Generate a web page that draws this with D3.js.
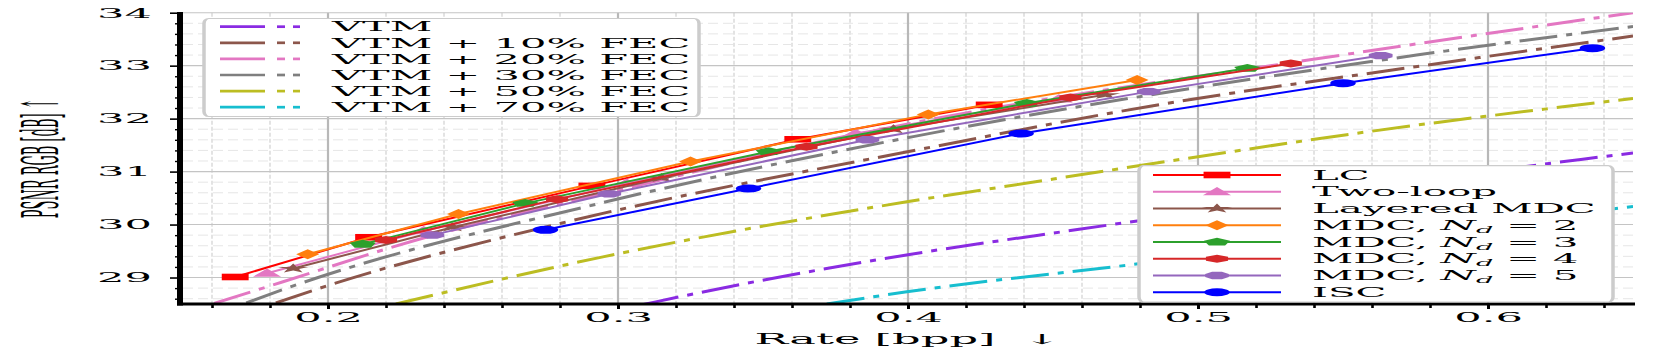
<!DOCTYPE html>
<html>
<head>
<meta charset="utf-8">
<script src="https://cdn.jsdelivr.net/npm/d3@7"></script>
<style>
body{margin:0;background:#fff}
svg{display:block}
text{font-family:"DejaVu Serif",serif;fill:#000}
</style>
</head>
<body>
<svg id="chart" width="1662" height="349"></svg>
<script>
// values
var xTicks=[0.2,0.3,0.4,0.5,0.6]
var yTicks=[29,30,31,32,33,34]

var lcRate=[0.168,0.214,0.291,0.362,0.428]
var lcPsnr=[29.01,29.76,30.73,31.61,32.26]
var twoLoopRate=[0.179,0.233,0.303,0.382,0.452]
var twoLoopPsnr=[29.08,29.88,30.78,31.72,32.37]
var layeredRate=[0.188,0.243,0.315,0.395,0.468]
var layeredPsnr=[29.17,29.95,30.88,31.80,32.45]
var mdc2Rate=[0.193,0.245,0.325,0.407,0.479]
var mdc2Psnr=[29.44,30.20,31.19,32.08,32.73]
var mdc3Rate=[0.212,0.268,0.352,0.441,0.517]
var mdc3Psnr=[29.63,30.40,31.38,32.29,32.95]
var mdc4Rate=[0.220,0.279,0.365,0.456,0.532]
var mdc4Psnr=[29.71,30.48,31.47,32.40,33.04]
var mdc5Rate=[0.236,0.297,0.386,0.483,0.563]
var mdc5Psnr=[29.80,30.58,31.60,32.51,33.19]
var iscRate=[0.275,0.345,0.439,0.550,0.636]
var iscPsnr=[29.90,30.68,31.72,32.67,33.33]

var vtmRate=[0.308,0.313,0.400,0.459,0.550,0.632,0.650]
var vtmPsnr=[28.48,28.54,29.43,29.91,30.61,31.23,31.35]
var fec10Rate=[0.182,0.1995,0.280,0.406,0.483,0.575,0.650]
var fec10Psnr=[28.52,28.84,30.02,31.44,32.23,32.98,33.56]
var fec20Rate=[0.1607,0.1845,0.2293,0.300,0.400,0.5386,0.650]
var fec20Psnr=[28.51,28.92,29.69,30.65,31.90,33.11,34.0]
var fec30Rate=[0.1718,0.1869,0.2937,0.4018,0.5754,0.650]
var fec30Psnr=[28.52,28.82,30.40,31.66,33.20,33.74]
var fec50Rate=[0.2234,0.2948,0.3996,0.4466,0.4903,0.5582,0.650]
var fec50Psnr=[28.50,29.39,30.43,30.83,31.20,31.75,32.38]
var fec70Rate=[0.372,0.3996,0.4736,0.650]
var fec70Psnr=[28.50,28.73,29.22,30.34]

var SX=3.2   // the figure is stretched horizontally

var zip=(a,b)=>a.map((v,i)=>({r:v,p:b[i]}))

var series=[
  {name:"LC",color:"#ff0000",shape:"square",data:zip(lcRate,lcPsnr)},
  {name:"Two-loop",color:"#e377c2",shape:"triangle",data:zip(twoLoopRate,twoLoopPsnr)},
  {name:"Layered MDC",color:"#8c564b",shape:"star",data:zip(layeredRate,layeredPsnr)},
  {name:"MDC2",nd:"2",color:"#ff7f0e",shape:"diamond",data:zip(mdc2Rate,mdc2Psnr)},
  {name:"MDC3",nd:"3",color:"#2ca02c",shape:"pentagon",data:zip(mdc3Rate,mdc3Psnr)},
  {name:"MDC4",nd:"4",color:"#d62728",shape:"hexagon",data:zip(mdc4Rate,mdc4Psnr)},
  {name:"MDC5",nd:"5",color:"#9467bd",shape:"octagon",data:zip(mdc5Rate,mdc5Psnr)},
  {name:"ISC",color:"#0000ff",shape:"circle",data:zip(iscRate,iscPsnr)}
]
var vtmLines=[
  {name:"VTM",color:"#8a2be2",data:zip(vtmRate,vtmPsnr)},
  {name:"VTM + 10% FEC",color:"#8c564b",data:zip(fec10Rate,fec10Psnr)},
  {name:"VTM + 20% FEC",color:"#e377c2",data:zip(fec20Rate,fec20Psnr)},
  {name:"VTM + 30% FEC",color:"#7f7f7f",data:zip(fec30Rate,fec30Psnr)},
  {name:"VTM + 50% FEC",color:"#bcbd22",data:zip(fec50Rate,fec50Psnr)},
  {name:"VTM + 70% FEC",color:"#17becf",data:zip(fec70Rate,fec70Psnr)}
]

var dims={width:1662,height:349,left:183,right:1633,top:12.7,bottom:304}

var svg=d3.select("#chart")

var xScale=d3.scaleLinear().domain([0.15,0.65]).range([dims.left,dims.right])
var yScale=d3.scaleLinear().domain([28.5,34]).range([dims.bottom,dims.top])

svg.append("clipPath").attr("id","plotclip")
   .append("rect")
   .attr("x",dims.left).attr("y",dims.top)
   .attr("width",dims.right-dims.left).attr("height",dims.bottom-dims.top)

// grid
var xMinor=d3.range(8,33).map(i=>+(i*0.02).toFixed(2)).filter(v=>Math.abs(v*10-Math.round(v*10))>1e-6)
var yMinor=d3.range(143,170).map(i=>+(i*0.2).toFixed(1)).filter(v=>Math.abs(v-Math.round(v))>1e-6)

var grid=svg.append("g")
grid.selectAll(".xminor").data(xMinor).enter().append("line")
    .attr("x1",d=>xScale(d)).attr("x2",d=>xScale(d))
    .attr("y1",dims.top).attr("y2",dims.bottom)
    .style("stroke","#dcdcdc").style("stroke-width",1.6).style("stroke-dasharray","4,2")
grid.selectAll(".yminor").data(yMinor).enter().append("line")
    .attr("x1",dims.left).attr("x2",dims.right)
    .attr("y1",d=>yScale(d)).attr("y2",d=>yScale(d))
    .style("stroke","#e6e6e6").style("stroke-width",1).style("stroke-dasharray","10,5")
grid.selectAll(".xmajor").data(xTicks).enter().append("line")
    .attr("x1",d=>xScale(d)).attr("x2",d=>xScale(d))
    .attr("y1",dims.top).attr("y2",dims.bottom)
    .style("stroke","#b8b8b8").style("stroke-width",2.2)
grid.selectAll(".ymajor").data(yTicks).enter().append("line")
    .attr("x1",dims.left).attr("x2",dims.right)
    .attr("y1",d=>yScale(d)).attr("y2",d=>yScale(d))
    .style("stroke","#c4c4c4").style("stroke-width",1.1)

var line=d3.line().x(d=>xScale(d.r)).y(d=>yScale(d.p))
var smooth=d3.line().x(d=>xScale(d.r)).y(d=>yScale(d.p)).curve(d3.curveMonotoneX)

var plot=svg.append("g").attr("clip-path","url(#plotclip)")
vtmLines.forEach(function(s){
  plot.append("path").datum(s.data)
      .attr("d",smooth)
      .style("fill","none").style("stroke",s.color)
      .style("stroke-width",3).style("stroke-dasharray","38,9,6,9")
})

// markers, drawn narrow then stretched by SX
function ngon(n,r,rot){
  var pts=d3.range(n).map(function(i){
    var a=rot+i*2*Math.PI/n
    return [r*Math.sin(a),-r*Math.cos(a)]
  })
  return "M"+pts.join("L")+"Z"
}
function markerPath(shape){
  if(shape=="square") return "M-4.2,-3.3L4.2,-3.3L4.2,3.3L-4.2,3.3Z"
  if(shape=="triangle") return "M0,-4.8L4.4,3.4L-4.4,3.4Z"
  if(shape=="star") return d3.symbol(d3.symbolStar,28)()
  if(shape=="diamond") return "M0,-5L3.6,0L0,5L-3.6,0Z"
  if(shape=="pentagon") return ngon(5,4.3,0)
  if(shape=="hexagon") return ngon(6,4,0)
  if(shape=="octagon") return ngon(8,4,Math.PI/8)
  return d3.symbol(d3.symbolCircle,50)()
}

series.forEach(function(s){
  svg.append("path").datum(s.data)
     .attr("d",line)
     .style("fill","none").style("stroke",s.color).style("stroke-width",2)
  svg.selectAll(null).data(s.data).enter().append("path")
     .attr("d",markerPath(s.shape))
     .attr("transform",d=>`translate(${xScale(d.r)},${yScale(d.p)}) scale(${SX},1)`)
     .style("fill",s.color)
})

// axes
var yAxis=svg.append("g").attr("transform",`translate(${dims.left-3},0)`)
   .call(d3.axisLeft(yScale).tickValues(yTicks).tickSize(10).tickFormat(d3.format("d")))
yAxis.select(".domain").remove()
yAxis.selectAll("line").style("stroke","#000").style("stroke-width",1.6)
yAxis.selectAll("text")
     .attr("x",-28/SX).attr("transform",`scale(${SX},1)`)
     .style("font-size","13.5px").style("font-family","DejaVu Serif")

var yMinorAxis=svg.append("g").attr("transform",`translate(${dims.left-3},0)`)
   .call(d3.axisLeft(yScale).tickValues(yMinor).tickSize(5).tickFormat(""))
yMinorAxis.select(".domain").remove()
yMinorAxis.selectAll("line").style("stroke","#000").style("stroke-width",1.4)

var xAxis=svg.append("g").attr("transform",`translate(0,${dims.bottom+1})`)
   .call(d3.axisBottom(xScale).tickValues(xTicks).tickSize(4).tickFormat(d3.format(".1f")))
xAxis.select(".domain").remove()
xAxis.selectAll("line").style("stroke","#000").style("stroke-width",3)
xAxis.selectAll("text")
     .attr("y",17).attr("dy",0).attr("transform",`scale(${SX},1)`)
     .style("font-size","13.5px").style("font-family","DejaVu Serif")

var xMinorAxis=svg.append("g").attr("transform",`translate(0,${dims.bottom+1})`)
   .call(d3.axisBottom(xScale).tickValues(xMinor).tickSize(3).tickFormat(""))
xMinorAxis.select(".domain").remove()
xMinorAxis.selectAll("line").style("stroke","#000").style("stroke-width",2.6)

// spines
svg.append("line").attr("x1",dims.left-3).attr("x2",dims.left-3)
   .attr("y1",dims.top-0.7).attr("y2",dims.bottom+1.5)
   .style("stroke","#000").style("stroke-width",6)
svg.append("line").attr("x1",dims.left-6).attr("x2",dims.right+2)
   .attr("y1",dims.bottom).attr("y2",dims.bottom)
   .style("stroke","#000").style("stroke-width",2.8)

// stretched text helper
function stext(g,x,y,str,size,anchor){
  return g.append("text")
          .attr("transform",`translate(${x},${y}) scale(${SX},1)`)
          .attr("text-anchor",anchor||"start")
          .style("font-size",size+"px")
          .style("white-space","pre")
          .text(str)
}

// axis labels
stext(svg,(dims.left+dims.right)/2,343.5,"Rate [bpp]  \u2193",14,"middle")
svg.append("text")
   .attr("transform",`translate(58,${(dims.top+dims.bottom)/2}) scale(3.9,1) rotate(-90)`)
   .attr("text-anchor","middle")
   .style("font-size","13px")
   .text("PSNR RGB [dB] \u2191")

// legend frames
function frame(x0,y0,x1,y1){
  var g=svg.append("g").attr("transform",`translate(${x0},${y0}) scale(${SX},1)`)
  g.append("rect").attr("x",0).attr("y",0)
   .attr("width",(x1-x0)/SX).attr("height",y1-y0)
   .attr("rx",1.5).attr("ry",5)
   .style("fill","#fff").style("stroke","#cccccc").style("stroke-width",1.1)
}

// legend 1: VTM references
frame(204,18.5,699,116.5)
var leg1=svg.append("g")
vtmLines.forEach(function(s,i){
  var yy=26.7+i*16.1
  leg1.append("line").attr("x1",220).attr("x2",265).attr("y1",yy).attr("y2",yy)
      .style("stroke",s.color).style("stroke-width",2.7)
  leg1.append("line").attr("x1",277).attr("x2",285).attr("y1",yy).attr("y2",yy)
      .style("stroke",s.color).style("stroke-width",2.7)
  leg1.append("line").attr("x1",293).attr("x2",300).attr("y1",yy).attr("y2",yy)
      .style("stroke",s.color).style("stroke-width",2.7)
  stext(leg1,332,yy+4.7,s.name,13)
})

// legend 2: codecs
frame(1139,165.6,1613,302)
var leg2=svg.append("g")
series.forEach(function(s,i){
  var yy=175+i*16.75
  leg2.append("line").attr("x1",1153).attr("x2",1281).attr("y1",yy).attr("y2",yy)
      .style("stroke",s.color).style("stroke-width",2)
  leg2.append("path").attr("d",markerPath(s.shape))
      .attr("transform",`translate(1217,${yy}) scale(${SX},1)`)
      .style("fill",s.color)
  var t=stext(leg2,1312,yy+4.5,"",12.6)
  if(s.nd){
    t.append("tspan").text("MDC, ")
    t.append("tspan").style("font-style","italic").text("N")
    t.append("tspan").style("font-style","italic").style("font-size","8.5px").attr("dy",3).text("d")
    t.append("tspan").attr("dy",-3).text(" = "+s.nd)
  } else {
    t.text(s.name)
  }
})
</script>
</body>
</html>
